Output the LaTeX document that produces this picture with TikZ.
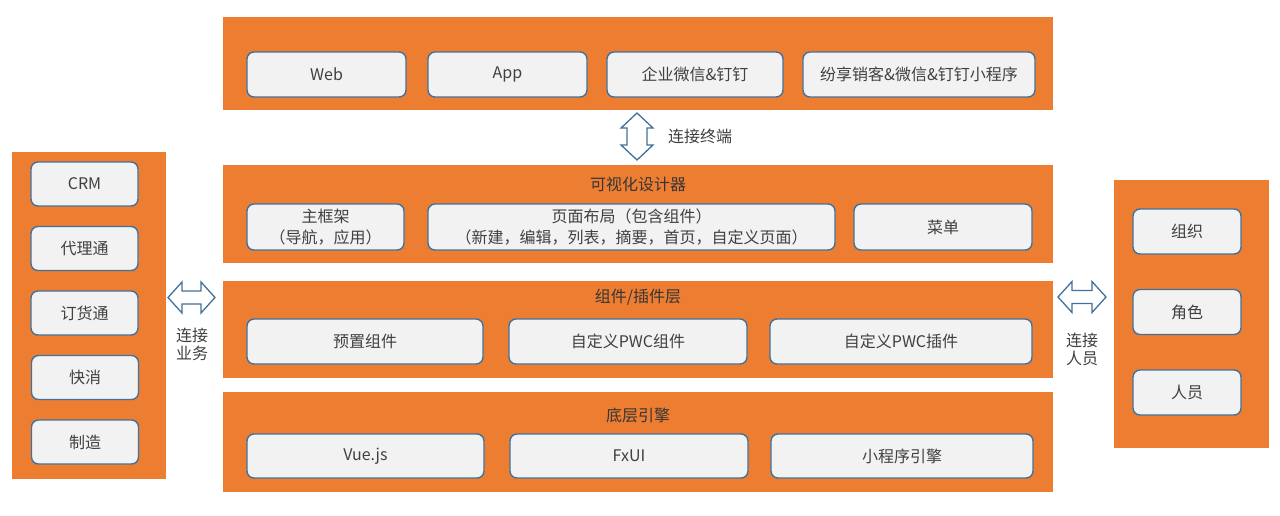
\documentclass[tikz,border=0pt]{standalone}
\usepackage{fontspec}
\setmainfont{Noto Sans CJK SC}
\definecolor{bandorange}{HTML}{ED7D31}
\definecolor{itemfill}{HTML}{F2F2F2}
\definecolor{itemedge}{HTML}{41719C}
\definecolor{itemtext}{HTML}{404040}
\begin{document}
\begin{tikzpicture}[x=1pt, y=-1pt,
    band/.style={fill=bandorange, inner sep=0pt},
    item/.style={draw=itemedge, line width=1.4pt, fill=itemfill, rounded corners=7pt, inner sep=0pt, align=center,
        text=itemtext, font=\fontsize{16}{20.5}\selectfont, minimum height=45pt},
    title/.style={text=itemtext!85!black, font=\fontsize{16}{20}\selectfont, inner sep=0pt},
    lbl/.style={text=itemtext, font=\fontsize{16}{18}\selectfont, align=center, inner sep=0pt},
    blockarrow/.style={draw=itemedge, line width=1.3pt, fill=white, line join=miter}]
            \useasboundingbox[fill=white] (0,0) rectangle (1280,515);
            % bands
            \node[band, minimum width=830pt, minimum height=93pt] (terminals) at (638,63.5) {};
            \node[band, minimum width=830pt, minimum height=98pt] (designer) at (638,214) {};
            \node[band, minimum width=830pt, minimum height=97pt] (plugins) at (638,329.5) {};
            \node[band, minimum width=830pt, minimum height=100pt] (engine) at (638,442) {};
            \node[band, minimum width=154pt, minimum height=327pt] (business) at (89,315.5) {};
            \node[band, minimum width=155pt, minimum height=268pt] (people) at (1191.5,314) {};
            % titles
            \node[title] (designertitle) at (638,184) {可视化设计器};
            \node[title] (pluginstitle) at (638,297) {组件/插件层};
            \node[title] (enginetitle) at (638,415) {底层引擎};
            % terminals
            \node[item, minimum width=159pt] (web) at (326.5,74.5) {Web};
            \node[item, minimum width=159pt] (app) at (507.5,74.5) {App};
            \node[item, minimum width=176pt] (wecom) at (695,74.5) {企业微信\&钉钉};
            \node[item, minimum width=232pt] (miniapp) at (919,74.5) {纷享销客\&微信\&钉钉小程序};
            % designer
            \node[item, minimum width=157pt, minimum height=46pt] (frame) at (325.5,227) {主框架\\（导航，应用）};
            \node[item, minimum width=407pt, minimum height=46pt] (layout) at (631.5,227) {页面布局（包含组件）\\（新建，编辑，列表，摘要，首页，自定义页面）};
            \node[item, minimum width=178pt, minimum height=46pt] (menu) at (943,227) {菜单};
            % plugins
            \node[item, minimum width=236pt] (preset) at (365,341.5) {预置组件};
            \node[item, minimum width=238pt] (pwccomp) at (628,341.5) {自定义PWC组件};
            \node[item, minimum width=262pt] (pwcplug) at (901,341.5) {自定义PWC插件};
            % engine
            \node[item, minimum width=237pt, minimum height=44pt] (vue) at (365.5,456) {Vue.js};
            \node[item, minimum width=238pt, minimum height=44pt] (fxui) at (629,456) {FxUI};
            \node[item, minimum width=262pt, minimum height=44pt] (mpengine) at (902,456) {小程序引擎};
            % business
            \node[item, minimum width=107pt, minimum height=44pt] (crm) at (84.5,184) {CRM};
            \node[item, minimum width=107pt, minimum height=44pt] (agent) at (84.5,248.5) {代理通};
            \node[item, minimum width=107pt, minimum height=44pt] (order) at (84.5,313) {订货通};
            \node[item, minimum width=107pt, minimum height=44pt] (fmcg) at (85,377.5) {快消};
            \node[item, minimum width=107pt, minimum height=44pt] (make) at (85,442) {制造};
            % people
            \node[item, minimum width=108pt] (org) at (1187,231.5) {组织};
            \node[item, minimum width=108pt] (role) at (1187,312) {角色};
            \node[item, minimum width=108pt] (staff) at (1187,392.5) {人员};

            % connectors
            \draw[blockarrow] (637,113) -- (653,128) -- (647,128) -- (647,145) -- (653,145) -- (637,160)
                -- (621,145) -- (627,145) -- (627,128) -- (621,128) -- cycle;
            \draw[blockarrow] (168,297.5) -- (182,282) -- (182,291) -- (201,291) -- (201,282) -- (215,297.5)
                -- (201,313) -- (201,304) -- (182,304) -- (182,313) -- cycle;
            \draw[blockarrow] (1058,297) -- (1072,281.5) -- (1072,290.5) -- (1092,290.5) -- (1092,281.5) -- (1106,297)
                -- (1092,312.5) -- (1092,303.5) -- (1072,303.5) -- (1072,312.5) -- cycle;
            \node[lbl, anchor=west] (termlbl) at (668,136) {连接终端};
            \node[lbl] (bizlbl) at (192,344) {连接\\业务};
            \node[lbl] (peoplelbl) at (1082,349) {连接\\人员};
\end{tikzpicture}
\end{document}
